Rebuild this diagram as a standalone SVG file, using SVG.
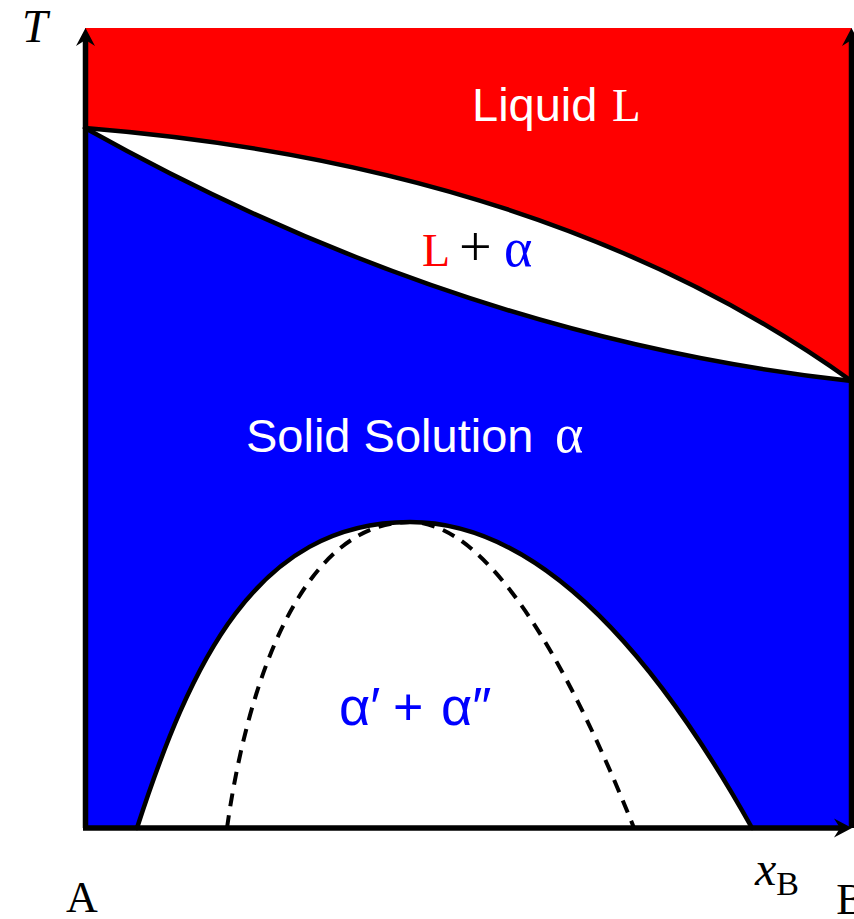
<svg xmlns="http://www.w3.org/2000/svg" width="854" height="919" viewBox="0 0 854 919">
<style>
.curve{fill:none;stroke:#000;stroke-width:4.5;stroke-linecap:round;stroke-linejoin:round}
.dash{fill:none;stroke:#000;stroke-width:4;stroke-dasharray:13 9}
.axis{fill:none;stroke:#000;stroke-width:5.5;stroke-linejoin:round}
.sans{font-family:"Liberation Sans",Arial,sans-serif}
.serif{font-family:"Liberation Serif","Times New Roman",serif}
</style>
<defs>
<marker id="arr" markerUnits="userSpaceOnUse" viewBox="-20 -11 22 22" markerWidth="22" markerHeight="22" refX="-8" refY="0" orient="auto">
<path d="M0,0 L-18,-9.5 L-12,0 L-18,9.5 Z" fill="#000"/>
</marker>
</defs>
<g id="regions">
<rect id="solid" x="85" y="28" width="766.5" height="800" fill="#0000ff"/>
<path id="liquid" d="M85,28 H851.5 V381 Q552,166 85,128 Z" fill="#ff0000"/>
<path id="lens" d="M85,128 Q552,166 851.5,381 Q460,338 85,128 Z" fill="#fff"/>
<path id="gap" d="M137,828 C190,665 255,522 410,522 Q581,522 752,828 Z" fill="#fff"/>
</g>
<g id="lines">
<path class="curve" d="M85,128 Q552,166 851.5,381"/>
<path class="curve" d="M85,128 Q460,338 851.5,381"/>
<path class="curve" d="M137,828 C190,665 255,522 410,522 Q581,522 752,828"/>
<path class="dash" d="M227,828 C246.6,688 300,522 410,522 C500,522 586,708 634,828"/>
</g>
<g id="axes">
<line class="axis" x1="85.5" y1="828" x2="85.5" y2="36" marker-end="url(#arr)"/>
<line class="axis" x1="851.5" y1="828" x2="851.5" y2="36" marker-end="url(#arr)"/>
<line class="axis" x1="83" y1="828" x2="844" y2="828" marker-end="url(#arr)"/>
</g>
<g id="labels">
<text class="serif" x="22" y="42" font-size="46" font-style="italic">T</text>
<text class="serif" x="82" y="912" font-size="44" text-anchor="middle">A</text>
<text class="serif" x="851" y="914" font-size="44" text-anchor="middle">B</text>
<text class="serif" x="755" y="885" font-size="48" font-style="italic">x<tspan font-style="normal" font-size="34" dy="10">B</tspan></text>
<text class="sans" x="472" y="121" font-size="47" fill="#fff">Liquid <tspan class="serif" x="612">L</tspan></text>
<text class="serif" y="266"><tspan x="422" font-size="46" fill="#ff0000">L</tspan><tspan x="459" font-size="58" fill="#000">+</tspan><tspan x="504" font-size="54" fill="#0000ff">α</tspan></text>
<text class="sans" x="246" y="452" font-size="47" fill="#fff">Solid Solution <tspan class="serif" x="555" font-size="54">α</tspan></text>
<text class="sans" y="725" fill="#0000ff"><tspan x="339" font-size="54">α′</tspan><tspan x="393" font-size="52">+</tspan><tspan x="441" font-size="54">α″</tspan></text>
</g>
</svg>
